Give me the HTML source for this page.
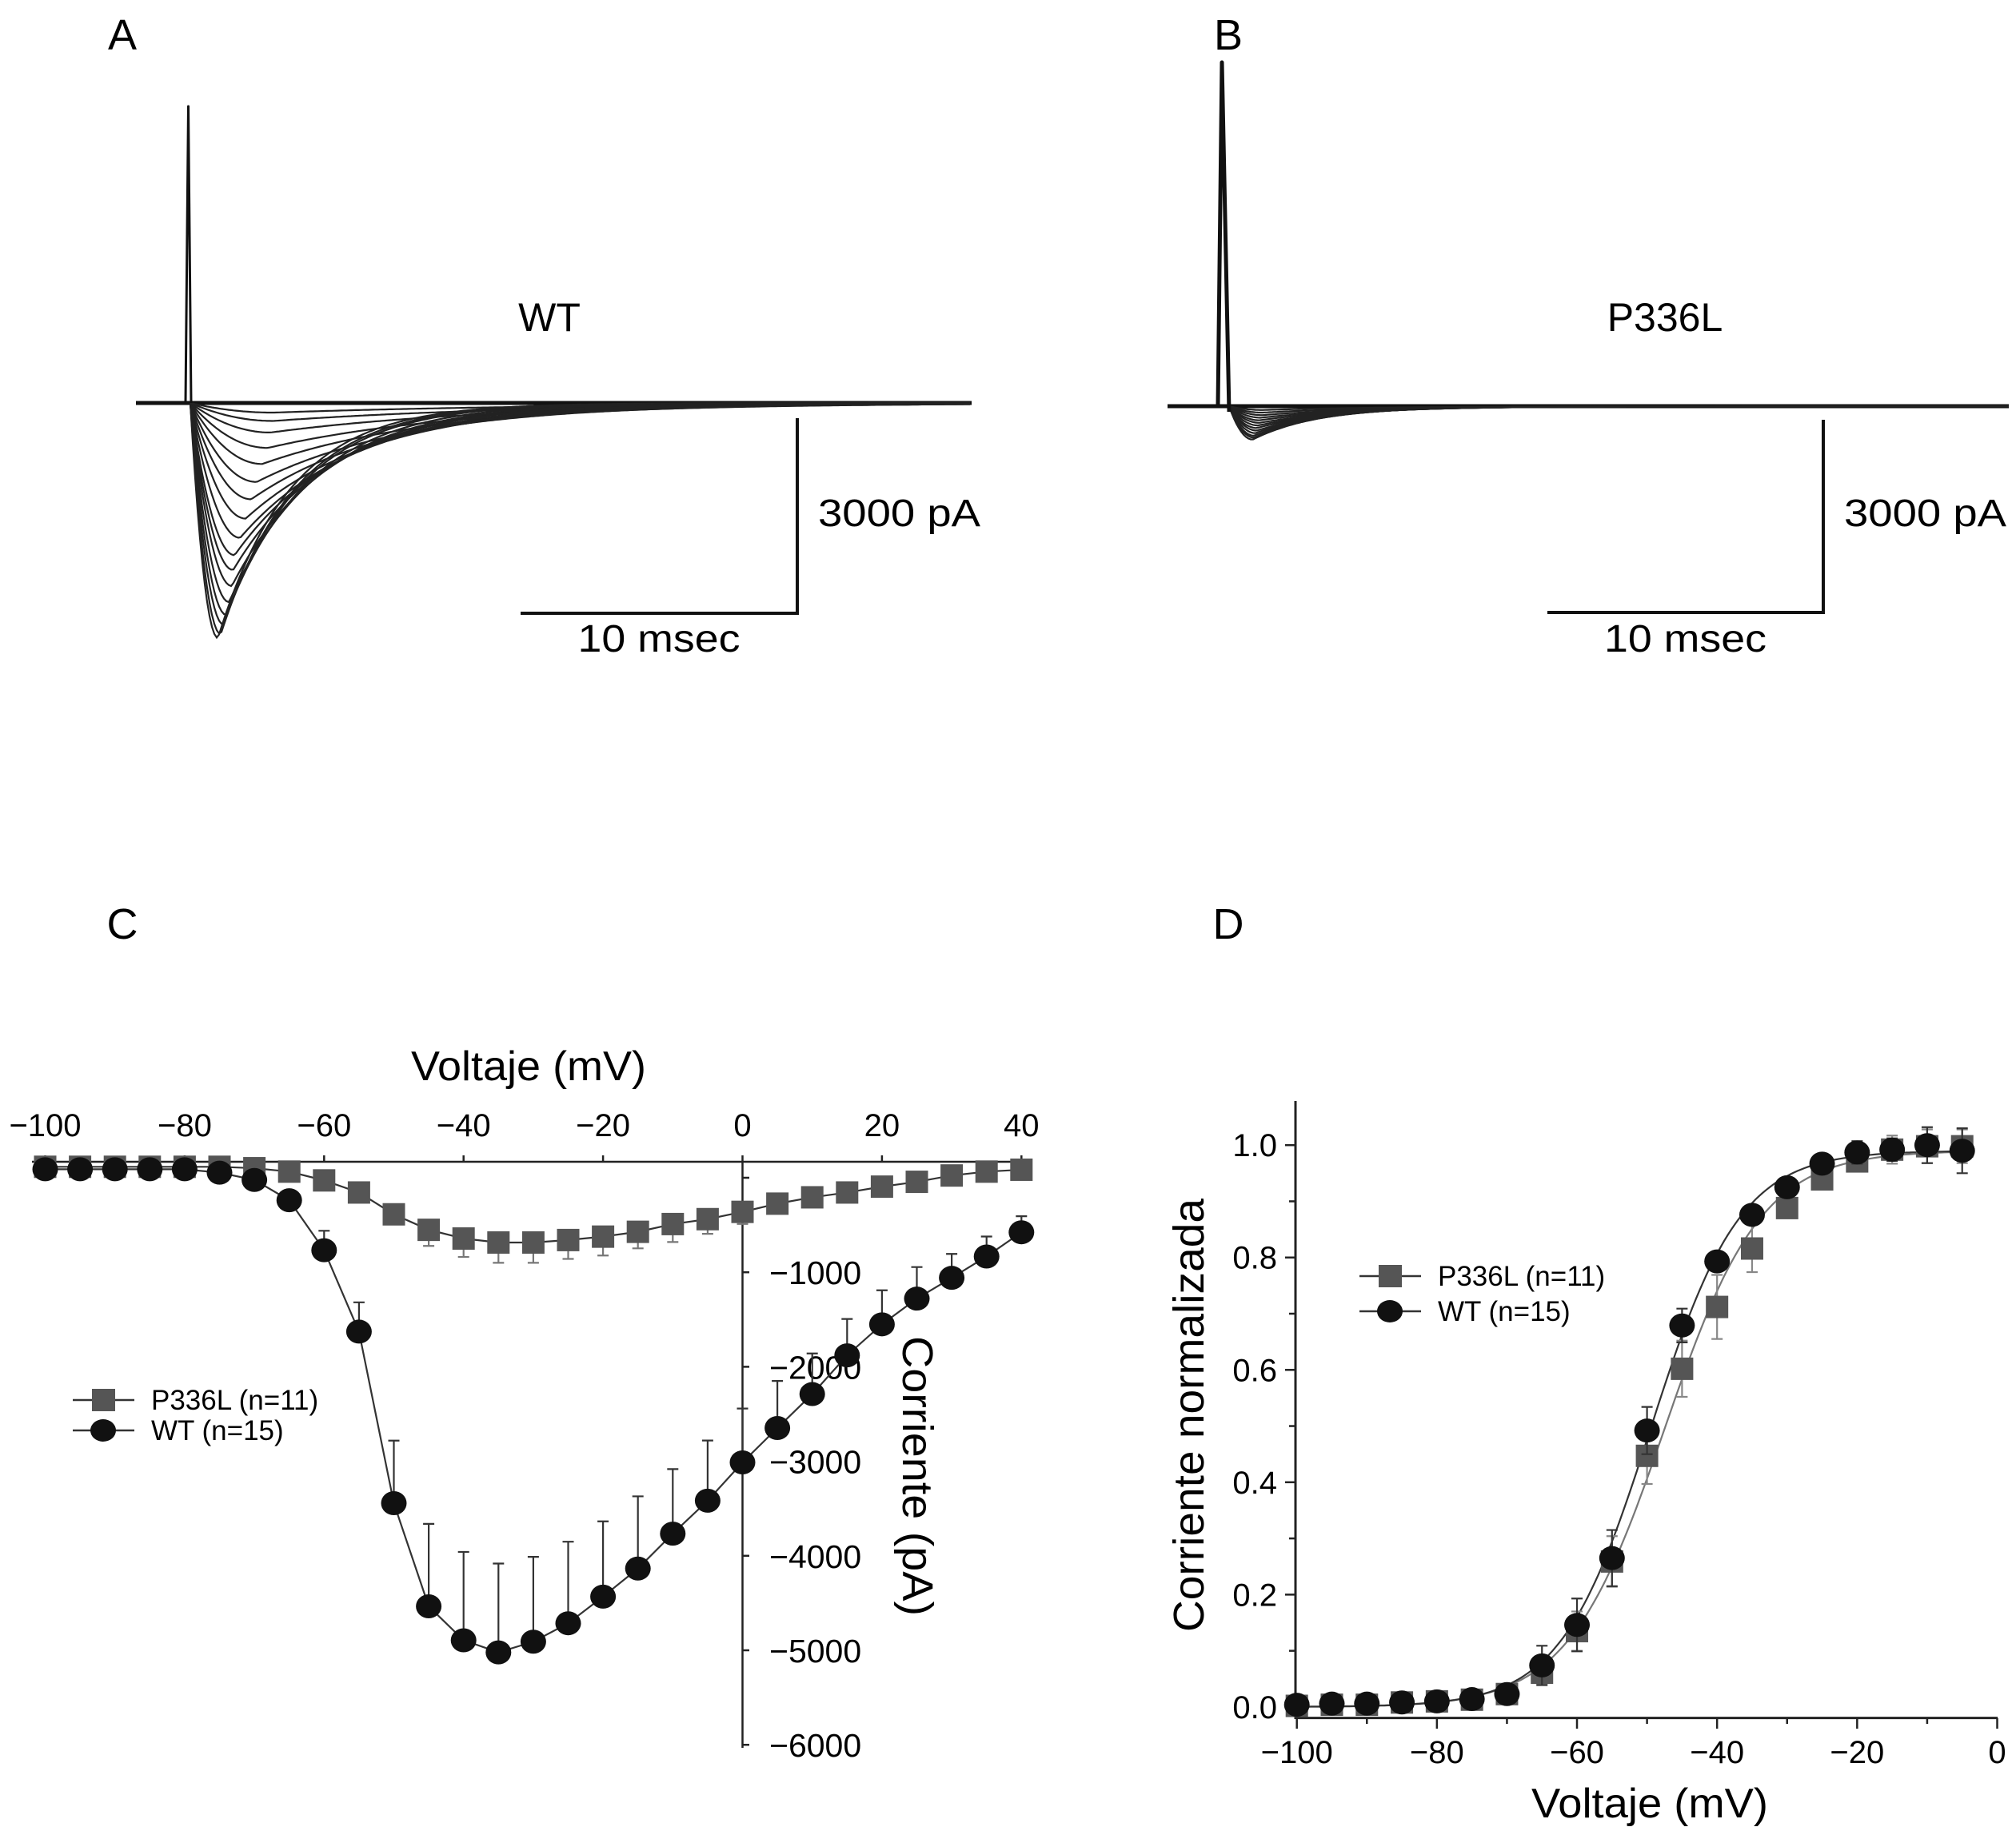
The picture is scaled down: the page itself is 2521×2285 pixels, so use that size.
<!DOCTYPE html>
<html><head><meta charset="utf-8"><style>
html,body{margin:0;padding:0;background:#fff}
svg{display:block;font-family:"Liberation Sans",Arial,sans-serif}
</style></head><body>
<svg id="fig" width="2521" height="2285" viewBox="0 0 2521 2285" xmlns="http://www.w3.org/2000/svg">
<rect width="2521" height="2285" fill="#fff"/>
<g id="gA"></g>
<g id="gB"></g>
<g id="gC"></g>
<g id="gD"></g>
</svg>
<script>
// ---- Panel A/B traces (amplitude pA, peak time ms, decay tau ms)
const ampsA=[3660,3600,3450,3300,3100,2850,2600,2370,2100,1800,1500,1230,950,700,460,280,150];
const peakA=[1.0,1.1,1.2,1.3,1.4,1.5,1.55,1.6,1.8,2.0,2.2,2.4,2.6,2.8,2.9,3.0,3.0];
const tauA=[2.6,2.7,2.8,3.0,3.2,3.4,3.6,3.9,4.2,4.6,5.0,5.6,6.2,7,8,9,10];
const ampsB=[520,490,460,420,380,340,300,260,220,180,140,100,60];
const peakB=[0.85,0.9,0.9,0.95,1.0,1.0,1.05,1.1,1.1,1.15,1.2,1.2,1.2];
const tauB=[2.4,2.5,2.6,2.7,2.8,3.0,3.2,3.4,3.6,3.8,4.0,4.2,4.5];
// ---- Panel C data (mV, pA)
const voltC=[-100,-95,-90,-85,-80,-75,-70,-65,-60,-55,-50,-45,-40,-35,-30,-25,-20,-15,-10,-5,0,5,10,15,20,25,30,35,40];
const wtC=[90,90,90,90,90,54,-23,-238,-767,-1628,-3443,-4535,-4894,-5022,-4909,-4714,-4432,-4135,-3766,-3417,-3012,-2648,-2289,-1879,-1551,-1279,-1059,-833,-577];
const wtErrC=[0,0,0,0,0,0,0,0,206,310,662,873,935,940,898,863,796,764,683,637,570,498,430,385,360,334,253,211,170];
const mutC=[116,116,116,116,116,116,101,65,-28,-156,-387,-551,-643,-685,-685,-659,-623,-572,-490,-438,-361,-274,-207,-156,-94,-43,24,65,85];
const mutErrC=[0,0,0,0,0,0,0,30,40,50,60,170,195,215,215,200,200,175,190,155,128,60,50,50,40,40,40,40,40];
const xTicksC=[-100,-80,-60,-40,-20,0,20,40];
const yTicksC=[-1000,-2000,-3000,-4000,-5000,-6000];
// ---- Panel D data
const voltD=[-100,-95,-90,-85,-80,-75,-70,-65,-60,-55,-50,-45,-40,-35,-30,-25,-20,-15,-10,-5];
const wtD=[0.004,0.006,0.006,0.008,0.010,0.014,0.023,0.074,0.146,0.265,0.492,0.679,0.793,0.876,0.925,0.967,0.987,0.992,1.0,0.990];
const wtErrD=[0.01,0.01,0.01,0.01,0.01,0.01,0.01,0.035,0.047,0.05,0.042,0.03,0.015,0.01,0.01,0.01,0.02,0.02,0.032,0.04];
const mutD=[0.002,0.004,0.004,0.008,0.010,0.013,0.023,0.061,0.135,0.259,0.447,0.602,0.712,0.816,0.888,0.939,0.971,0.992,0.998,0.998];
const mutErrD=[0.01,0.01,0.01,0.01,0.01,0.01,0.01,0.02,0.035,0.045,0.05,0.05,0.057,0.042,0.015,0.015,0.015,0.025,0.03,0.03];
const fitWT=[-49.5,6.4,0.99];
const fitMut=[-47.5,6.9,0.99];
const xTicksD=[-100,-80,-60,-40,-20,0];
const yTicksD=[0,0.2,0.4,0.6,0.8,1.0];

const NS='http://www.w3.org/2000/svg';
function mk(parent,tag,attrs,text){const e=document.createElementNS(NS,tag);for(const k in attrs)e.setAttribute(k,attrs[k]);if(text!==undefined)e.textContent=text;parent.appendChild(e);return e;}
const gA=document.getElementById('gA'),gB=document.getElementById('gB'),gC=document.getElementById('gC'),gD=document.getElementById('gD');

function tracePanel(g,amps,peaks,taus,o){
  const pxMs=34.6,pxPA=241/3000;
  let el;
  el=mk(g,'line',{x1:o.x0,y1:o.base,x2:o.x1,y2:o.base,stroke:'#111','stroke-width':5});
  
  
  for(let i=0;i<amps.length;i++){
    let d='M'+o.t0+' '+o.base;
    for(let x=o.t0;x<=o.x1;x+=3){
      const t=(x-o.t0)/pxMs;let v;
      if(t<peaks[i]){const r=t/peaks[i];v=amps[i]*(1-(1-r)*(1-r));}
      else v=amps[i]*Math.exp(-(t-peaks[i])/taus[i]);
      d+=' L'+x+' '+(o.base+v*pxPA).toFixed(1);
    }
    el=mk(g,'path',{d:d,fill:'none',stroke:'#222','stroke-width':2.2});
    
    
  }
  el=mk(g,'path',{d:o.spike,fill:'none',stroke:'#111','stroke-width':o.sw,'stroke-linejoin':'round'});
  
  
  el=mk(g,'path',{d:'M'+o.sbx0+' '+o.sby1+' L'+o.sbx1+' '+o.sby1+' L'+o.sbx1+' '+o.sby0,fill:'none',stroke:'#111','stroke-width':4});
  
  
  el=mk(g,'text',{x:o.sbx1+26,y:658,'font-size':48,textLength:203,lengthAdjust:'spacingAndGlyphs'},'3000 pA');
  
  
  el=mk(g,'text',{x:(o.sbx0+o.sbx1)/2,y:815,'font-size':48,'text-anchor':'middle',textLength:203,lengthAdjust:'spacingAndGlyphs'},'10 msec');
  
  
  el=mk(g,'text',{x:o.lx,y:414,'font-size':50,'text-anchor':'middle'},o.label);
  
  
  el=mk(g,'text',{x:o.px,y:62,'font-size':54,'text-anchor':'middle'},o.panel);
  
  
}
tracePanel(gA,ampsA,peakA,tauA,{x0:170,x1:1215,base:504,t0:238,sw:3,spike:'M232 504 L235.5 133 L239 504',sbx0:651,sbx1:997,sby0:523,sby1:767,lx:687,label:'WT',px:153,panel:'A'});
tracePanel(gB,ampsB,peakB,tauB,{x0:1460,x1:2512,base:508,t0:1537,sw:5,spike:'M1523 508 L1528 78 L1537 515',sbx0:1935,sbx1:2280,sby0:525,sby1:766,lx:2082,label:'P336L',px:1536,panel:'B'});

// ---------- Panel C
const xC=v=>928.5+v*8.72, yC=v=>1473-v*0.1182;
let e;
e=mk(gC,'text',{x:153,y:1174,'font-size':54,'text-anchor':'middle'},'C');


e=mk(gC,'line',{x1:40,y1:1453,x2:1283,y2:1453,stroke:'#222','stroke-width':2.5});


e=mk(gC,'line',{x1:928.5,y1:1453,x2:928.5,y2:2186,stroke:'#222','stroke-width':2.5});


xTicksC.forEach(v=>{
  e=mk(gC,'line',{x1:xC(v),y1:1445,x2:xC(v),y2:1453,stroke:'#222','stroke-width':2.5});
  
  
  e=mk(gC,'text',{x:xC(v),y:1421,'font-size':40,'text-anchor':'middle'},(v<0?'\u2212':'')+Math.abs(v));
  
  
});
[0].concat(yTicksC).forEach(v=>{
  e=mk(gC,'line',{x1:928.5,y1:yC(v),x2:937,y2:yC(v),stroke:'#222','stroke-width':2.5});
  
  
});
yTicksC.forEach(v=>{
  e=mk(gC,'text',{x:962,y:yC(v)+15,'font-size':41},'\u2212'+Math.abs(v));
  
  
});
e=mk(gC,'text',{x:661,y:1351,'font-size':52,'text-anchor':'middle',textLength:294,lengthAdjust:'spacingAndGlyphs'},'Voltaje (mV)');


e=mk(gC,'text',{x:0,y:0,'font-size':54,'text-anchor':'middle',textLength:350,lengthAdjust:'spacingAndGlyphs',transform:'translate(1129 1846) rotate(90)'},'Corriente (pA)');



function series(g,xs,ys,errs,fx,fy,kind,color,errColor,name,line){
  if(line){
    e=mk(g,'path',{d:xs.map((x,i)=>(i?'L':'M')+fx(x)+' '+fy(ys[i])).join(' '),fill:'none',stroke:'#333','stroke-width':2.2});
    
    
  }
  xs.forEach((x,i)=>{
    if(errs[i]){
      const cx=fx(x),y0=fy(ys[i]);
      if(line){
        const yy=kind==='circle'?fy(ys[i]+errs[i]):fy(ys[i]-errs[i]);
        e=mk(g,'path',{d:'M'+cx+' '+y0+' L'+cx+' '+yy+' M'+(cx-7)+' '+yy+' L'+(cx+7)+' '+yy,stroke:errColor,'stroke-width':2.2,fill:'none'});
      } else {
        const a=fy(ys[i]+errs[i]),b=fy(ys[i]-errs[i]);
        e=mk(g,'path',{d:'M'+cx+' '+a+' L'+cx+' '+b+' M'+(cx-7)+' '+a+' L'+(cx+7)+' '+a+' M'+(cx-7)+' '+b+' L'+(cx+7)+' '+b,stroke:errColor,'stroke-width':2.2,fill:'none'});
      }
      
      
    }
  });
  xs.forEach((x,i)=>{
    if(kind==='circle') e=mk(g,'ellipse',{cx:fx(x),cy:fy(ys[i]),rx:16,ry:15,fill:color});
    else e=mk(g,'rect',{x:fx(x)-14,y:fy(ys[i])-14,width:28,height:28,fill:color});
    
    
  });
}
series(gC,voltC,mutC,mutErrC,xC,yC,'square','#555','#777','p336l',true);
series(gC,voltC,wtC,wtErrC,xC,yC,'circle','#111','#333','wt',true);

function legend(g,x0,y1,y2){
  e=mk(g,'line',{x1:x0,y1:y1,x2:x0+77,y2:y1,stroke:'#333','stroke-width':2.5});
  
  
  e=mk(g,'rect',{x:x0+24,y:y1-14,width:29,height:28,fill:'#555'});
  
  
  e=mk(g,'text',{x:x0+98,y:y1+12,'font-size':35},'P336L (n=11)');
  
  
  e=mk(g,'line',{x1:x0,y1:y2,x2:x0+77,y2:y2,stroke:'#333','stroke-width':2.5});
  
  
  e=mk(g,'ellipse',{cx:x0+38,cy:y2,rx:16,ry:14,fill:'#111'});
  
  
  e=mk(g,'text',{x:x0+98,y:y2+12,'font-size':35},'WT (n=15)');
  
  
}
legend(gC,91,1751,1789);

// ---------- Panel D
const xD=v=>2497.5+v*8.758, yD=v=>2134.9-v*702.7;
e=mk(gD,'text',{x:1536,y:1174,'font-size':54,'text-anchor':'middle'},'D');


e=mk(gD,'line',{x1:1620,y1:1377,x2:1620,y2:2150,stroke:'#222','stroke-width':3});


e=mk(gD,'line',{x1:1620,y1:2148.6,x2:2498,y2:2148.6,stroke:'#222','stroke-width':3});


yTicksD.forEach(v=>{
  e=mk(gD,'line',{x1:1607,y1:yD(v),x2:1620,y2:yD(v),stroke:'#222','stroke-width':2.5});
  
  
  if(v<1){
    e=mk(gD,'line',{x1:1612,y1:yD(v+0.1),x2:1620,y2:yD(v+0.1),stroke:'#222','stroke-width':2.5});
    
    
  }
  e=mk(gD,'text',{x:1597,y:yD(v)+14,'font-size':40,'text-anchor':'end'},v.toFixed(1));
  
  
});
xTicksD.forEach(v=>{
  e=mk(gD,'line',{x1:xD(v),y1:2148.6,x2:xD(v),y2:2162,stroke:'#222','stroke-width':2.5});
  
  
  if(v<0){e=mk(gD,'line',{x1:xD(v+10),y1:2148.6,x2:xD(v+10),y2:2156,stroke:'#222','stroke-width':2.5});
  
  }
  e=mk(gD,'text',{x:xD(v),y:2205,'font-size':40,'text-anchor':'middle'},(v<0?'\u2212':'')+Math.abs(v));
  
  
});
e=mk(gD,'text',{x:2063,y:2273,'font-size':52,'text-anchor':'middle',textLength:296,lengthAdjust:'spacingAndGlyphs'},'Voltaje (mV)');


e=mk(gD,'text',{x:0,y:0,'font-size':54,'text-anchor':'middle',textLength:542,lengthAdjust:'spacingAndGlyphs',transform:'translate(1505 1770) rotate(-90)'},'Corriente normalizada');


function fitPath(p){let d='';for(let v=-100;v<=-5;v+=0.5){const y=p[2]/(1+Math.exp((p[0]-v)/p[1]));d+=(d?' L':'M')+xD(v).toFixed(1)+' '+yD(y).toFixed(1);}return d;}
e=mk(gD,'path',{d:fitPath(fitMut),fill:'none',stroke:'#777','stroke-width':2.2});


e=mk(gD,'path',{d:fitPath(fitWT),fill:'none',stroke:'#333','stroke-width':2.2});


series(gD,voltD,mutD,mutErrD,xD,yD,'square','#555','#888','p336l',false);
series(gD,voltD,wtD,wtErrD,xD,yD,'circle','#111','#333','wt',false);
legend(gD,1700,1596,1640);
</script>
</body></html>
